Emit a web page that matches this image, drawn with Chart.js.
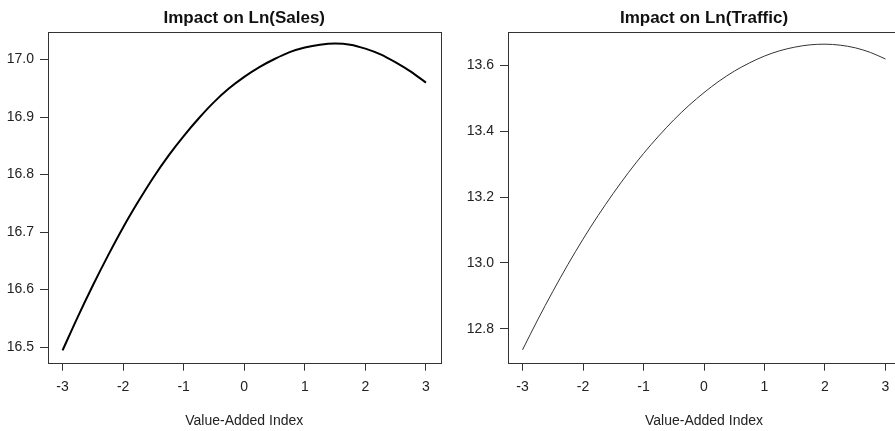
<!DOCTYPE html>
<html>
<head>
<meta charset="utf-8">
<script src="https://cdn.jsdelivr.net/npm/chart.js@4"></script>
<style>
  html, body { margin: 0; padding: 0; background: #fff; overflow: hidden; }
  #wrap { position: relative; width: 895px; height: 431px; overflow: hidden; }
  canvas { position: absolute; top: 0; }
  #salesChart { left: 0; }
  #trafficChart { left: 445px; }
</style>
</head>
<body>
<div id="wrap">
  <canvas id="salesChart" width="445" height="431"></canvas>
  <canvas id="trafficChart" width="460" height="431"></canvas>
</div>
<script>
// values
const indexValues = [-3, -2.75, -2.5, -2.25, -2, -1.75, -1.5, -1.25, -1, -0.75, -0.5, -0.25,
    0, 0.25, 0.5, 0.75, 1, 1.25, 1.5, 1.75, 2, 2.25, 2.5, 2.75, 3];

const lnSales = [16.494, 16.552, 16.607, 16.659, 16.708, 16.753, 16.795, 16.833, 16.867,
    16.898, 16.926, 16.950, 16.970, 16.987, 17.001, 17.013, 17.021, 17.026, 17.028,
    17.026, 17.019, 17.009, 16.995, 16.979, 16.960];

const lnTraffic = [12.736, 12.827, 12.913, 12.995, 13.072, 13.144, 13.211, 13.274, 13.332,
    13.385, 13.434, 13.478, 13.517, 13.552, 13.582, 13.607, 13.628, 13.644, 13.655,
    13.662, 13.664, 13.661, 13.653, 13.639, 13.619];

const xTicks = [-3, -2, -1, 0, 1, 2, 3];
const salesTicks = [16.5, 16.6, 16.7, 16.8, 16.9, 17.0];
const trafficTicks = [12.8, 13.0, 13.2, 13.4, 13.6];

const FONT = 'Liberation Sans, Arial, Helvetica, sans-serif';
const INK = '#222';

// R style: box round the plot area and a bold title centred over it
const boxAndTitle = {
    id: 'boxAndTitle',
    afterDraw(chart, args, opts) {
        const { ctx, chartArea } = chart;
        ctx.save();
        ctx.strokeStyle = '#333';
        ctx.lineWidth = 1;
        ctx.strokeRect(Math.round(chartArea.left) + 0.5, Math.round(chartArea.top) + 0.5,
            Math.round(chartArea.right - chartArea.left), Math.round(chartArea.bottom - chartArea.top));
        ctx.fillStyle = '#111';
        ctx.font = 'bold 17px ' + FONT;
        ctx.textAlign = 'center';
        ctx.textBaseline = 'alphabetic';
        ctx.fillText(opts.text, (chartArea.left + chartArea.right) / 2, 22.5);
        ctx.restore();
    }
};

function makeChart(canvasId, title, values, yTicks, yMin, yMax, yAxisWidth, padRight, line) {
    const ctx = document.getElementById(canvasId).getContext('2d');
    return new Chart(ctx, {
        type: 'line',
        data: {
            datasets: [
                {
                    data: indexValues.map((x, i) => ({ x: x, y: values[i] })),
                    borderColor: line.color,
                    borderWidth: line.width,
                    pointRadius: 0,
                    cubicInterpolationMode: 'monotone',
                    fill: false,
                },
            ],
        },
        options: {
            responsive: false,
            animation: false,
            events: [],
            layout: {
                padding: { top: 32, right: padRight, bottom: 0, left: 0 },
            },
            plugins: {
                legend: { display: false },
                tooltip: { enabled: false },
                boxAndTitle: { text: title },
            },
            scales: {
                x: {
                    type: 'linear',
                    min: -3.24,
                    max: 3.24,
                    afterBuildTicks: (scale) => {
                        scale.ticks = xTicks.map(v => ({ value: v }));
                    },
                    afterFit: (scale) => { scale.height = 68.3; },
                    grid: {
                        drawOnChartArea: false,
                        drawTicks: true,
                        tickLength: 8,
                        color: '#333',
                    },
                    border: { display: false },
                    ticks: {
                        color: INK,
                        font: { family: FONT, size: 14 },
                        padding: 8,
                        maxRotation: 0,
                        callback: (v) => String(v),
                    },
                    title: {
                        display: true,
                        text: 'Value-Added Index',
                        color: INK,
                        font: { family: FONT, size: 14 },
                        padding: { top: 0, bottom: 1.5 },
                    },
                },
                y: {
                    min: yMin,
                    max: yMax,
                    afterBuildTicks: (scale) => {
                        scale.ticks = yTicks.map(v => ({ value: v }));
                    },
                    afterFit: (scale) => { scale.width = yAxisWidth; },
                    grid: {
                        drawOnChartArea: false,
                        drawTicks: true,
                        tickLength: 8,
                        color: '#333',
                    },
                    border: { display: false },
                    ticks: {
                        color: INK,
                        font: { family: FONT, size: 14 },
                        padding: 6,
                        callback: (v) => v.toFixed(1),
                    },
                },
            },
        },
        plugins: [boxAndTitle],
    });
}

makeChart('salesChart', 'Impact on Ln(Sales)', lnSales, salesTicks,
    16.4727, 17.048, 48, 4.5, { color: '#000', width: 2 });

makeChart('trafficChart', 'Impact on Ln(Traffic)', lnTraffic, trafficTicks,
    12.697, 13.701, 63, 5, { color: '#333', width: 1 });
</script>
</body>
</html>
